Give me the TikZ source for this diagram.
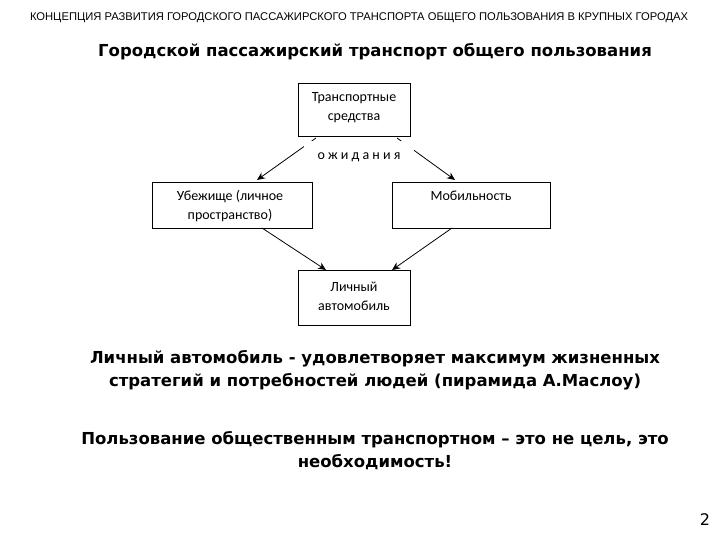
\documentclass[tikz,border=0pt]{standalone}
\usepackage{fontspec}
\setmainfont{DejaVu Sans}
\newfontfamily\boxf{Carlito}
\newfontfamily\hdrf{Liberation Sans}
\usetikzlibrary{arrows.meta}
\begin{document}
\begin{tikzpicture}[x=1pt,y=-1pt,
  bx/.style={draw,semithick,fill=white},
  bt/.style={font=\boxf\fontsize{14}{19}\selectfont,align=center},
  arr/.style={thick,-{Stealth[length=8pt,width=7pt]}},
  big/.style={font=\bfseries\fontsize{16.5}{23}\selectfont,align=center}]
\useasboundingbox[fill=white] (0,0) rectangle (720,540);
\node[font=\hdrf\fontsize{11.2}{13}\selectfont] (hdr) at (359,18) {КОНЦЕПЦИЯ РАЗВИТИЯ ГОРОДСКОГО ПАССАЖИРСКОГО ТРАНСПОРТА ОБЩЕГО ПОЛЬЗОВАНИЯ В КРУПНЫХ ГОРОДАХ};
\node[big] (title) at (375,52) {Городской пассажирский транспорт общего пользования};
\draw[bx] (298,83) rectangle (410,136);
\node[bt] (top) at (354,108) {Транспортные\\средства};
\draw[bx] (152,182) rectangle (312,228);
\node[bt] (left) at (230,206) {Убежище (личное\\пространство)};
\draw[bx] (392,182) rectangle (550,228);
\node[bt] (right) at (471,196) {Мобильность};
\draw[bx] (298,270) rectangle (410,325);
\node[bt] (bot) at (354,296) {Личный\\автомобиль};
\coordinate (tl) at (316,138); \coordinate (tr) at (397,138);
\coordinate (la) at (257,180); \coordinate (ra) at (455,180);
\coordinate (lb) at (262,228); \coordinate (rb) at (452,228);
\coordinate (bl) at (326,270); \coordinate (br) at (392,270);
\draw[arr] (tl) -- (la);
\draw[arr] (tr) -- (ra);
\node[fill=white,font=\boxf\fontsize{14}{16}\selectfont,inner xsep=14pt,minimum height=32pt] (exp) at (359,157) {о ж и д а н и я};
\draw[arr] (lb) -- (bl);
\draw[arr] (rb) -- (br);
\node[big] (t1) at (375,370) {Личный автомобиль  - удовлетворяет максимум жизненных\\стратегий и потребностей людей (пирамида А.Маслоу)};
\node[big] (t2) at (375,451) {Пользование общественным транспортном – это не цель, это\\необходимость!};
\node[font=\fontsize{16}{18}\selectfont] (num) at (705,520) {2};
\end{tikzpicture}
\end{document}
